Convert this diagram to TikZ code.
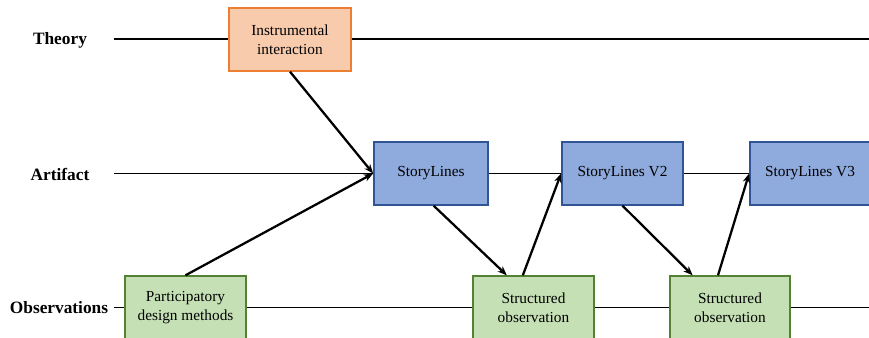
\documentclass[tikz,border=0pt]{standalone}
\usepackage{fontspec}
\setmainfont{Liberation Serif}
\usetikzlibrary{arrows.meta}
\definecolor{theoryfill}{HTML}{F8CBAD}
\definecolor{theorydraw}{HTML}{ED7D31}
\definecolor{artifactfill}{HTML}{8FAADC}
\definecolor{artifactdraw}{HTML}{2F5597}
\definecolor{obsfill}{HTML}{C5E0B4}
\definecolor{obsdraw}{HTML}{548235}
\begin{document}
\begin{tikzpicture}[x=0.75pt,y=-0.75pt,
  rowlabel/.style={font=\fontsize{13}{15}\selectfont\bfseries},
  box/.style={draw,line width=1.3pt,minimum height=47pt,align=center,
    font=\fontsize{11.5}{14.5}\selectfont},
  theorybox/.style={box,fill=theoryfill,draw=theorydraw},
  artifactbox/.style={box,fill=artifactfill,draw=artifactdraw},
  obsbox/.style={box,fill=obsfill,draw=obsdraw},
  flow/.style={line width=1.7pt,-{Stealth[length=7pt,width=5.5pt]}}]
  \clip (0,0) rectangle (869,338);
  % rows
  \node[rowlabel] (theory) at (60,40) {Theory};
  \node[rowlabel] (artifact) at (60,174) {Artifact};
  \node[rowlabel] (observations) at (59,308) {Observations};
  \coordinate (theoryStart) at (114,39);
  \coordinate (theoryEnd) at (869,39);
  \coordinate (artifactStart) at (114,173.5);
  \coordinate (artifactEnd) at (869,173.5);
  \coordinate (obsStart) at (114,307.5);
  \coordinate (obsEnd) at (869,307.5);
  \draw[line width=0.8pt] (theoryStart) -- (theoryEnd);
  \draw[line width=0.8pt] (artifactStart) -- (artifactEnd);
  \draw[line width=0.8pt] (obsStart) -- (obsEnd);
  % boxes
  \node[theorybox,minimum width=91.5pt] (instr) at (290,39.5) {Instrumental\\interaction};
  \node[artifactbox,minimum width=85.5pt] (story) at (431,173.5) {StoryLines};
  \node[artifactbox,minimum width=90.75pt] (storyTwo) at (622.5,173.5) {StoryLines V2};
  \node[artifactbox,minimum width=90pt] (storyThree) at (810,173.5) {StoryLines V3};
  \node[obsbox,minimum width=90.75pt] (particip) at (185.5,307.5) {Participatory\\design methods};
  \node[obsbox,minimum width=90.75pt] (obsOne) at (533.5,307.5) {Structured\\observation};
  \node[obsbox,minimum width=90pt] (obsTwo) at (730,307.5) {Structured\\observation};
  % arrows
  \draw[flow] (instr.south) -- (story.west);
  \draw[flow] (particip.north) -- (story.west);
  \draw[flow] ([xshift=2pt]story.south) -- ([xshift=-20pt]obsOne.north);
  \draw[flow] ([xshift=-8pt]obsOne.north) -- (storyTwo.west);
  \draw[flow] (storyTwo.south) -- ([xshift=-28pt]obsTwo.north);
  \draw[flow] ([xshift=-9pt]obsTwo.north) -- (storyThree.west);
\end{tikzpicture}
\end{document}
